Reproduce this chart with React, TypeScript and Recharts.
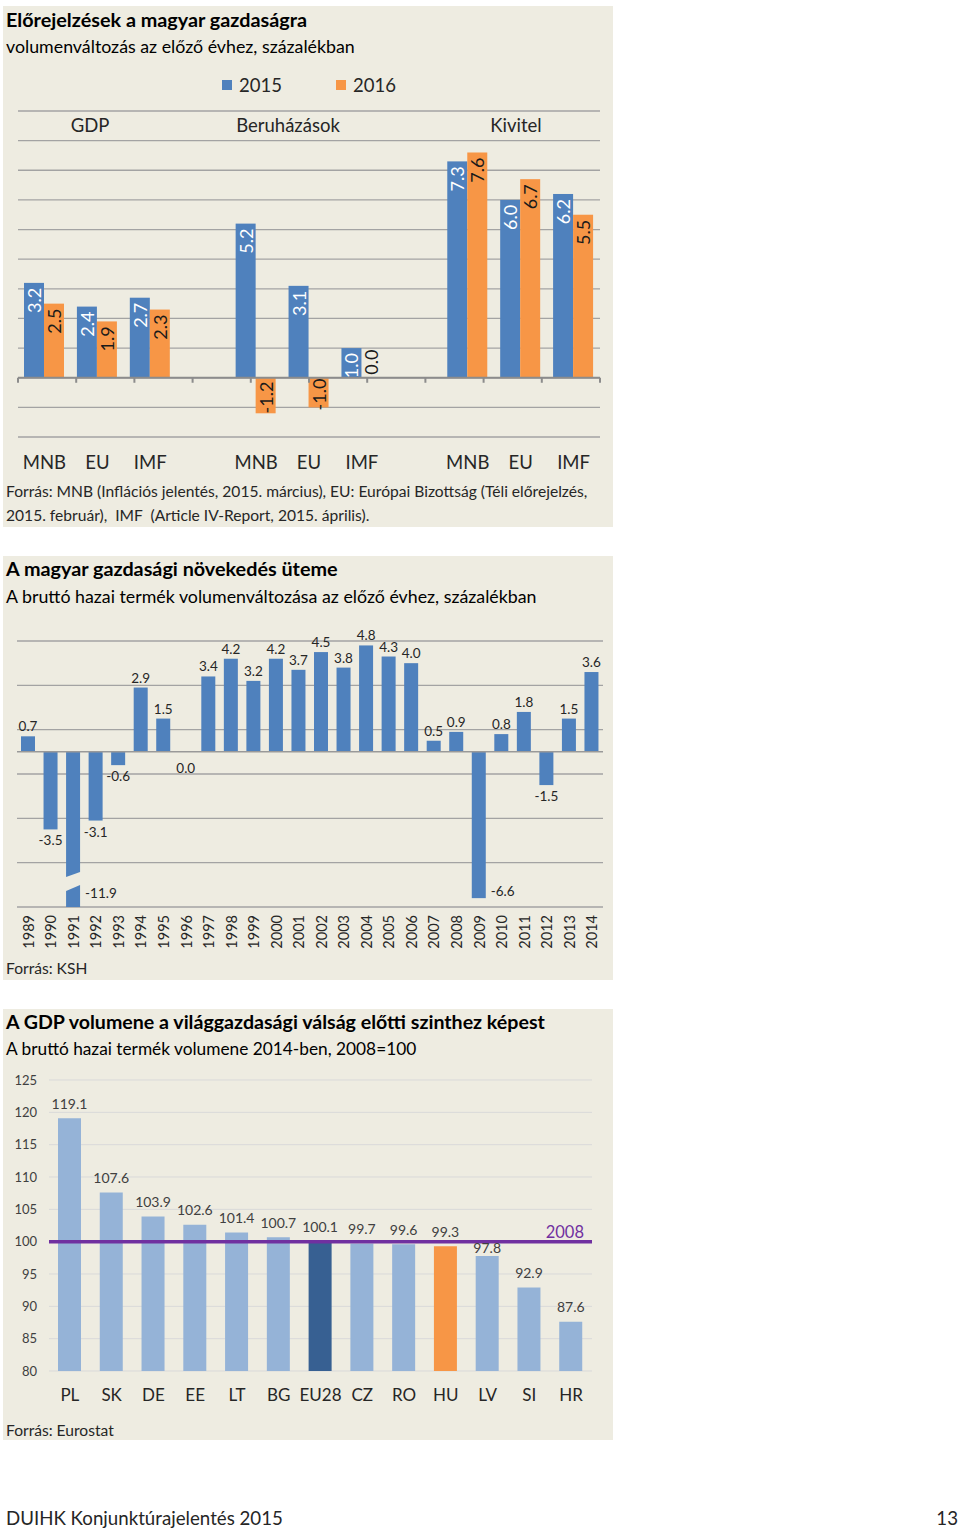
import React from 'react';
import { BarChart, Bar, XAxis, YAxis, CartesianGrid, ReferenceLine, LabelList, Cell } from 'recharts';

const FONT = 'Lato, "Open Sans", "DejaVu Sans", sans-serif';
const PANEL_BG = '#EEECE1';
const BLUE = '#4F81BD';
const ORANGE = '#F79646';
const TEXT = '#262626';

// Előrejelzések a magyar gazdaságra
const forecastGroups = ['GDP', 'Beruházások', 'Kivitel'];
const forecastSources = ['MNB', 'EU', 'IMF'];
const forecastSeries = ['2015', '2016'];
const forecast2015 = [3.2, 2.4, 2.7, 5.2, 3.1, 1.0, 7.3, 6.0, 6.2];
const forecast2016 = [2.5, 1.9, 2.3, -1.2, -1.0, 0.0, 7.6, 6.7, 5.5];
const forecastTicks = [-2, -1, 0, 1, 2, 3, 4, 5, 6, 7, 8, 9];

// A magyar gazdasági növekedés üteme
const growthYears = [
  '1989', '1990', '1991', '1992', '1993', '1994', '1995', '1996', '1997', '1998', '1999', '2000', '2001',
  '2002', '2003', '2004', '2005', '2006', '2007', '2008', '2009', '2010', '2011', '2012', '2013', '2014',
];
const growthValues = [
  0.7, -3.5, -11.9, -3.1, -0.6, 2.9, 1.5, 0.0, 3.4, 4.2, 3.2, 4.2, 3.7,
  4.5, 3.8, 4.8, 4.3, 4.0, 0.5, 0.9, -6.6, 0.8, 1.8, -1.5, 1.5, 3.6,
];
const growthTicks = [-7, -5, -3, -1, 1, 3, 5];
const GROWTH_MIN = -7;

// A GDP volumene 2014-ben, 2008=100
const levelCountries = ['PL', 'SK', 'DE', 'EE', 'LT', 'BG', 'EU28', 'CZ', 'RO', 'HU', 'LV', 'SI', 'HR'];
const levelValues = [119.1, 107.6, 103.9, 102.6, 101.4, 100.7, 100.1, 99.7, 99.6, 99.3, 97.8, 92.9, 87.6];
const levelTicks = [80, 85, 90, 95, 100, 105, 110, 115, 120, 125];
const LEVEL_BASE = 100;

const forecastData: any[] = [];
forecastGroups.forEach((g, gi) => {
  forecastSources.forEach((s, si) => {
    const i = gi * forecastSources.length + si;
    forecastData.push({ id: `${g}-${s}`, source: s, y2015: forecast2015[i], y2016: forecast2016[i] });
  });
  if (gi < forecastGroups.length - 1) {
    forecastData.push({ id: `gap-${g}`, source: '', y2015: null, y2016: null });
  }
});
const forecastEdges = Array.from({ length: forecastData.length + 1 }, (_, i) => i);

const growthData = growthYears.map((year, i) => ({ year, growth: growthValues[i] }));
const levelData = levelCountries.map((country, i) => ({ country, level: levelValues[i] }));
const levelColor = (c: string) => (c === 'EU28' ? '#376092' : c === 'HU' ? ORANGE : '#95B3D7');

// bar + value written vertically inside the bar end
const ForecastBar = (props: any) => {
  const { x, y, width, height, payload, fill, field, textColor } = props;
  const v = payload ? payload[field] : null;
  if (v === null || v === undefined) return null;
  const top = Math.min(y, y + height);
  const bottom = Math.max(y, y + height);
  const cx = x + width / 2;
  let ay: number;
  let anchor: 'start' | 'end' | 'middle';
  if (v < 0) {
    ay = (top + bottom) / 2 + 2;
    anchor = 'middle';
  } else if (bottom - top < 24) {
    ay = top - 3;
    anchor = 'start';
  } else {
    ay = top + 5;
    anchor = 'end';
  }
  return (
    <g>
      {bottom - top > 0 && <rect x={x} y={top} width={width} height={bottom - top} fill={fill} />}
      <text
        x={cx}
        y={ay}
        transform={`rotate(-90 ${cx} ${ay})`}
        textAnchor={anchor}
        dominantBaseline="central"
        fill={textColor}
        fontSize={18}
        fontFamily={FONT}
      >
        {Number(v).toFixed(1)}
      </text>
    </g>
  );
};

const GrowthBar = (props: any) => {
  const { x, y, width, height, payload } = props;
  const v: number = payload.growth;
  const top = Math.min(y, y + height);
  const bottom = Math.max(y, y + height);
  const cx = x + width / 2;
  const txt = v.toFixed(1);
  const lbl = { fontSize: 13.5, fill: TEXT, fontFamily: FONT, dominantBaseline: 'central' as const };
  if (v < GROWTH_MIN) {
    const b = bottom;
    return (
      <g>
        <polygon points={`${x},${top} ${x + width},${top} ${x + width},${b - 35} ${x},${b - 30}`} fill={BLUE} />
        <polygon points={`${x},${b - 16} ${x + width},${b - 22} ${x + width},${b} ${x},${b}`} fill={BLUE} />
        <text x={x + width + 5} y={b - 14} textAnchor="start" {...lbl}>{txt}</text>
      </g>
    );
  }
  let label;
  if (v < -5) label = <text x={x + width + 5} y={bottom - 7} textAnchor="start" {...lbl}>{txt}</text>;
  else if (v > 0) label = <text x={cx} y={top - 10} textAnchor="middle" {...lbl}>{txt}</text>;
  else label = <text x={cx} y={bottom + (v === 0 ? 16 : 11)} textAnchor="middle" {...lbl}>{txt}</text>;
  return (
    <g>
      {bottom - top > 0 && <rect x={x} y={top} width={width} height={bottom - top} fill={BLUE} />}
      {label}
    </g>
  );
};

// value above the bar; a label that would sit on the 2008 line is tucked under it
const LevelLabel = (props: any) => {
  const vb = props.viewBox && props.viewBox.width !== undefined ? props.viewBox : props;
  const v = Number(props.value);
  const top = Math.min(vb.y, vb.y + vb.height);
  const cx = vb.x + vb.width / 2;
  const onLine = v < LEVEL_BASE - 1 && v > LEVEL_BASE - 3;
  const cy = onLine ? top - 8 : top - 15;
  return (
    <text x={cx} y={cy} textAnchor="middle" dominantBaseline="central" fontSize={14} fill="#404040" fontFamily={FONT}>
      {v.toFixed(1)}
    </text>
  );
};

const YearTick = ({ x, y, payload }: any) => (
  <text
    x={x}
    y={y}
    transform={`rotate(-90 ${x} ${y})`}
    textAnchor="end"
    dominantBaseline="central"
    fontSize={14.5}
    fill={TEXT}
    fontFamily={FONT}
  >
    {payload.value}
  </text>
);

const Txt = ({ left, top, size, bold, children, lh, color }: any) => (
  <div
    style={{
      position: 'absolute',
      left,
      top,
      fontSize: size,
      lineHeight: `${lh ?? Math.round(size * 1.3)}px`,
      fontWeight: bold ? 700 : 400,
      whiteSpace: 'pre',
      color: color ?? '#000',
    }}
  >
    {children}
  </div>
);

const Panel = ({ top, height }: any) => (
  <div style={{ position: 'absolute', left: 3, top, width: 610, height, background: PANEL_BG }} />
);

const ForecastChart = () => (
  <div style={{ position: 'absolute', left: 0, top: 100 }}>
    <BarChart
      width={620}
      height={380}
      data={forecastData}
      margin={{ top: 11, right: 20, left: 18, bottom: 0 }}
      barGap={0}
      barSize={20}
    >
      <CartesianGrid vertical={false} stroke="#A3A3A3" strokeWidth={1.3} />
      <YAxis hide domain={[-2, 9]} ticks={forecastTicks} />
      <XAxis
        dataKey="id"
        height={43}
        axisLine={false}
        tickLine={false}
        tickMargin={13}
        interval={0}
        tickFormatter={(v: string) => forecastData.find((d) => d.id === v)?.source ?? ''}
        tick={{ fontSize: 18.5, fill: TEXT, fontFamily: FONT }}
      />
      <XAxis xAxisId="edge" type="number" domain={[0, forecastData.length]} hide />
      <Bar
        dataKey="y2015"
        name={forecastSeries[0]}
        fill={BLUE}
        isAnimationActive={false}
        shape={(p: any) => <ForecastBar {...p} field="y2015" fill={BLUE} textColor="#FFFFFF" />}
      />
      <Bar
        dataKey="y2016"
        name={forecastSeries[1]}
        fill={ORANGE}
        isAnimationActive={false}
        shape={(p: any) => <ForecastBar {...p} field="y2016" fill={ORANGE} textColor="#1A1A1A" />}
      />
      <ReferenceLine y={0} stroke="#8C8C8C" strokeWidth={2} />
      {forecastEdges.map((i) => (
        <ReferenceLine
          key={i}
          xAxisId="edge"
          segment={[{ x: i, y: 0 }, { x: i, y: -0.17 }]}
          stroke="#8C8C8C"
          strokeWidth={2}
        />
      ))}
    </BarChart>
  </div>
);

const GrowthChart = () => (
  <div style={{ position: 'absolute', left: 0, top: 620 }}>
    <BarChart width={620} height={340} data={growthData} margin={{ top: 21, right: 17, left: 17, bottom: 0 }} barSize={14}>
      <CartesianGrid vertical={false} stroke="#A3A3A3" strokeWidth={1.3} />
      <YAxis hide domain={[GROWTH_MIN, 5]} ticks={growthTicks} />
      <XAxis dataKey="year" height={53} axisLine={false} tickLine={false} interval={0} tick={<YearTick />} />
      <ReferenceLine y={0} stroke="#999999" strokeWidth={1.5} />
      <Bar
        dataKey={(d: any) => Math.max(d.growth, GROWTH_MIN)}
        fill={BLUE}
        shape={<GrowthBar />}
        isAnimationActive={false}
      />
    </BarChart>
  </div>
);

const LevelChart = () => (
  <div style={{ position: 'absolute', left: 0, top: 1060 }}>
    <BarChart width={620} height={350} data={levelData} margin={{ top: 20, right: 28, left: 0, bottom: 0 }} barSize={23}>
      <CartesianGrid vertical={false} stroke="#D9D9D9" strokeWidth={1} />
      <YAxis
        width={49}
        domain={[80, 125]}
        ticks={levelTicks}
        axisLine={false}
        tickLine={false}
        tickMargin={6}
        tick={{ fontSize: 13, fill: '#404040', fontFamily: FONT }}
      />
      <XAxis
        dataKey="country"
        height={39}
        axisLine={false}
        tickLine={false}
        tickMargin={12}
        interval={0}
        tick={{ fontSize: 17, fill: TEXT, fontFamily: FONT }}
      />
      <Bar dataKey="level" isAnimationActive={false}>
        {levelData.map((d) => (
          <Cell key={d.country} fill={levelColor(d.country)} />
        ))}
        <LabelList dataKey="level" content={LevelLabel} />
      </Bar>
      <ReferenceLine
        y={LEVEL_BASE}
        stroke="#7030A0"
        strokeWidth={3.5}
        label={(p: any) => {
          const vb = p.viewBox;
          return (
            <text
              x={vb.x + vb.width - 8}
              y={vb.y - 10}
              textAnchor="end"
              dominantBaseline="central"
              fontSize={16.5}
              fill="#7030A0"
              fontFamily={FONT}
            >
              2008
            </text>
          );
        }}
      />
    </BarChart>
  </div>
);

export default function App() {
  const legendLeft = [222, 336];
  const legendColors = [BLUE, ORANGE];
  const groupCenters = [90, 288, 516];
  return (
    <div
      style={{
        position: 'absolute',
        left: 0,
        top: 0,
        width: 960,
        height: 1533,
        background: '#FFFFFF',
        fontFamily: FONT,
        overflow: 'hidden',
      }}
    >
      <Panel top={6} height={521} />
      <Panel top={556} height={424} />
      <Panel top={1009} height={431} />

      <Txt left={6} top={7} size={19.8} lh={24} bold>Előrejelzések a magyar gazdaságra</Txt>
      <Txt left={6} top={35} size={17.8} lh={22}>volumenváltozás az előző évhez, százalékban</Txt>
      {forecastSeries.map((s, i) => (
        <div key={s} style={{ position: 'absolute', left: legendLeft[i], top: 75, height: 20, display: 'flex', alignItems: 'center' }}>
          <div style={{ width: 10, height: 10, background: legendColors[i], marginRight: 7 }} />
          <span style={{ fontSize: 18.5, lineHeight: '20px', color: TEXT }}>{s}</span>
        </div>
      ))}
      {forecastGroups.map((g, i) => (
        <div
          key={g}
          style={{
            position: 'absolute',
            left: groupCenters[i] - 80,
            width: 160,
            top: 114,
            textAlign: 'center',
            fontSize: 18.5,
            lineHeight: '22px',
            color: TEXT,
          }}
        >
          {g}
        </div>
      ))}
      <ForecastChart />
      <Txt left={6} top={479} size={15.6} lh={24} color={TEXT}>
        {'Forrás: MNB (Inflációs jelentés, 2015. március), EU: Európai Bizottság (Téli előrejelzés,\n2015. február),  IMF  (Article IV-Report, 2015. április).'}
      </Txt>

      <Txt left={6} top={556} size={19.8} lh={24} bold>A magyar gazdasági növekedés üteme</Txt>
      <Txt left={6} top={585} size={17.8} lh={22}>A bruttó hazai termék volumenváltozása az előző évhez, százalékban</Txt>
      <GrowthChart />
      <Txt left={6} top={958} size={15.6} lh={20} color={TEXT}>Forrás: KSH</Txt>

      <Txt left={6} top={1010} size={19.6} lh={24} bold>A GDP volumene a világgazdasági válság előtti szinthez képest</Txt>
      <Txt left={6} top={1038} size={17.3} lh={22}>A bruttó hazai termék volumene 2014-ben, 2008=100</Txt>
      <LevelChart />
      <Txt left={6} top={1420} size={15.6} lh={20} color={TEXT}>Forrás: Eurostat</Txt>

      <Txt left={6} top={1506} size={18.7} lh={24} color={TEXT}>DUIHK Konjunktúrajelentés 2015</Txt>
      <div style={{ position: 'absolute', right: 2, top: 1506, fontSize: 18.7, lineHeight: '24px', color: TEXT }}>13</div>
    </div>
  );
}
